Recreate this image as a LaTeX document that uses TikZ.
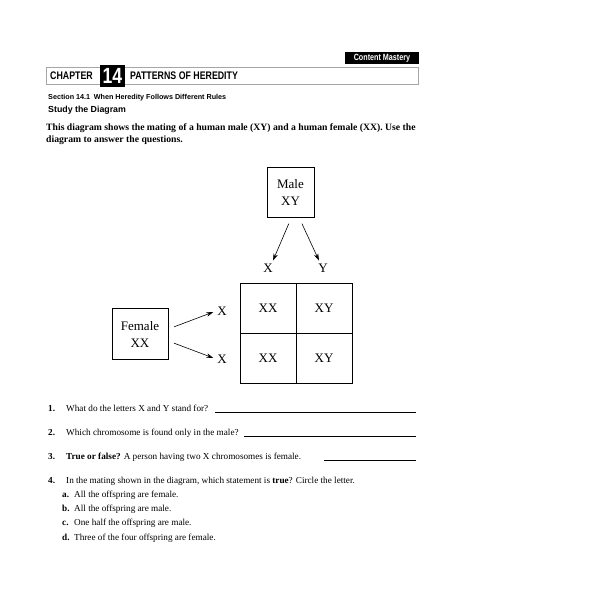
\documentclass[tikz,border=0pt]{standalone}
\usepackage{fontspec}
\setmainfont{Liberation Serif}
\newfontfamily\headfont[FakeStretch=0.8]{Liberation Sans}
\newfontfamily\subheadfont{Liberation Sans}
\usepackage{tikz}
\usetikzlibrary{arrows.meta, positioning}

\begin{document}
\begin{tikzpicture}[
    x=1pt, y=-1pt,
    box/.style={rectangle, draw, line width=0.6pt, minimum width=47pt, minimum height=50pt, align=center, font=\fontsize{13}{17}\selectfont, inner sep=0pt},
    cell/.style={rectangle, draw, line width=0.6pt, minimum width=56pt, minimum height=50pt, font=\fontsize{13}{15}\selectfont, inner sep=0pt},
    allele/.style={font=\fontsize{13}{15}\selectfont, inner sep=1pt},
    arr/.style={-{Stealth[length=7pt, width=4.5pt]}, line width=0.6pt},
    head/.style={font=\headfont\bfseries, inner sep=0pt, anchor=west},
    qtext/.style={font=\fontsize{9.2}{11}\selectfont, inner sep=0pt, anchor=base west},
    qnum/.style={qtext, font=\bfseries\fontsize{9.2}{11}\selectfont},
    qline/.style={line width=0.5pt}
]
    \useasboundingbox (0,0) rectangle (599,600);

    % Header
    \node[fill=black, text=white, font=\headfont\bfseries\fontsize{9}{10}\selectfont, minimum width=74pt, minimum height=12pt, inner sep=0pt] (mastery) at (382,58) {Content Mastery};
    \node[draw=gray!70, line width=0.8pt, minimum width=372pt, minimum height=17pt, inner sep=0pt] (bar) at (232,75.5) {};
    \node[fill=black, text=white, font=\headfont\bfseries\fontsize{22}{22}\selectfont, minimum width=25pt, minimum height=22pt, inner sep=0pt] (chapnum) at (112.5,76) {14};
    \node[head, font=\headfont\bfseries\fontsize{11}{12}\selectfont] (chapter) at (50,76) {CHAPTER};
    \node[head, font=\headfont\bfseries\fontsize{11}{12}\selectfont] (title) at (130,76) {PATTERNS OF HEREDITY};
    \node[head, font=\subheadfont\bfseries\fontsize{7.2}{9}\selectfont] (section) at (48,98) {Section 14.1\enspace When Heredity Follows Different Rules};
    \node[head, font=\subheadfont\bfseries\fontsize{8.8}{11}\selectfont] (study) at (48,110) {Study the Diagram};
    \node[font=\bfseries\fontsize{9.7}{12}\selectfont, inner sep=0pt, anchor=north west, align=left] (intro) at (46,123)
        {This diagram shows the mating of a human male (XY) and a human female (XX). Use the\\diagram to answer the questions.};

    % Parents
    \node[box] (male) at (290.5,192) {Male\\XY};
    \node[box, minimum width=56pt, minimum height=51pt] (female) at (140,334) {Female\\XX};

    % Gametes
    \node[allele] (colx) at (268,268) {X};
    \node[allele] (coly) at (323,268) {Y};
    \node[allele] (rowa) at (222,311) {X};
    \node[allele] (rowb) at (222,359) {X};

    % Punnett square
    \node[cell] (c11) at (268,308) {XX};
    \node[cell] (c12) at (324,308) {XY};
    \node[cell] (c21) at (268,358) {XX};
    \node[cell] (c22) at (324,358) {XY};

    \draw[arr, shorten <=7pt] ([xshift=1pt]male.south) -- ([xshift=5pt, yshift=2pt]colx.north);
    \draw[arr, shorten <=7pt] ([xshift=8.5pt]male.south) -- ([xshift=-4pt, yshift=2pt]coly.north);
    \draw[arr, shorten <=6pt, shorten >=3pt] ([yshift=5pt]female.east) -- (rowa.west);
    \draw[arr, shorten <=6pt, shorten >=3pt] ([yshift=-7pt]female.east) -- (rowb.west);

    % Questions
    \node[qnum] (n1) at (48,411) {1.};
    \node[qtext] (q1) at (66,411) {What do the letters X and Y stand for?};
    \draw[qline] (215,412) -- (416,412);

    \node[qnum] (n2) at (48,435) {2.};
    \node[qtext] (q2) at (66,435) {Which chromosome is found only in the male?};
    \draw[qline] (244,436) -- (416,436);

    \node[qnum] (n3) at (48,459) {3.};
    \node[qtext] (q3) at (66,459) {\textbf{True or false?} A person having two X chromosomes is female.};
    \draw[qline] (324,460) -- (416,460);

    \node[qnum] (n4) at (48,483) {4.};
    \node[qtext] (q4) at (66,483) {In the mating shown in the diagram, which statement is \textbf{true}? Circle the letter.};
    \node[qnum] (na) at (62,497) {a.};
    \node[qtext] (qa) at (74,497) {All the offspring are female.};
    \node[qnum] (nb) at (62,511) {b.};
    \node[qtext] (qb) at (74,511) {All the offspring are male.};
    \node[qnum] (nc) at (62,525) {c.};
    \node[qtext] (qc) at (74,525) {One half the offspring are male.};
    \node[qnum] (nd) at (62,540) {d.};
    \node[qtext] (qd) at (74,540) {Three of the four offspring are female.};
\end{tikzpicture}
\end{document}
